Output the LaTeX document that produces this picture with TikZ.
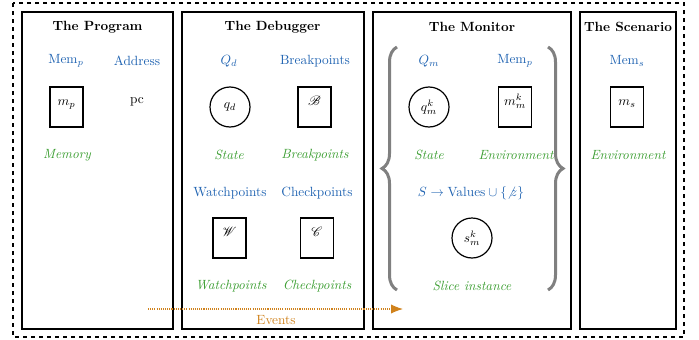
\documentclass[tikz,border=0pt]{standalone}
\usetikzlibrary{arrows.meta,positioning,decorations.pathreplacing}
\usepackage{amsmath}
\usepackage{amssymb}
\usepackage{mathrsfs}

\definecolor{typeblue}{RGB}{33,100,178}
\definecolor{rolegreen}{RGB}{60,158,50}
\definecolor{eventorange}{RGB}{208,130,28}

\begin{document}
\begin{tikzpicture}[x=0.75pt,y=-0.75pt,
	panel/.style={draw, line width=0.9pt},
	title/.style={font=\bfseries},
	typ/.style={text=typeblue},
	role/.style={text=rolegreen, font=\itshape},
	cell/.style={draw, line width=0.9pt, minimum width=24.75pt, minimum height=30pt, inner sep=0pt, text height=6pt, text depth=8pt},
	st/.style={circle, draw, line width=0.9pt, minimum size=30pt, inner sep=0pt},
	brc/.style={draw=black!50, line width=2.25pt, decorate, decoration={brace, amplitude=11.25pt}}]
		\useasboundingbox (0,0) rectangle (699,339);
		\draw[line width=0.9pt, dashed] (13,3) rectangle (684,337);
		
		% the program
		\draw[panel] (22,12) rectangle (173,329);
		\node[title] (progtitle) at (97.5,27) {The Program};
		\node[typ] (progmemtyp) at (66,61) {Mem$_p$};
		\node[typ] (progaddrtyp) at (137,61) {Address};
		\node[cell] (progmem) at (66.5,107) {$m_p$};
		\node (progpc) at (137,102) {pc};
		\node[role] (progmemrole) at (67,155) {Memory};
		
		% the debugger
		\draw[panel] (182,12) rectangle (364,329);
		\node[title] (dbgtitle) at (272.5,27) {The Debugger};
		\node[typ] (dbgstatetyp) at (229,61) {$Q_d$};
		\node[typ] (dbgbreaktyp) at (315,61) {Breakpoints};
		\node[st] (dbgstate) at (230,107) {$q_d$};
		\node[cell] (dbgbreak) at (314.5,107) {$\mathscr{B}$};
		\node[role] (dbgstaterole) at (229,155) {State};
		\node[role] (dbgbreakrole) at (315,155) {Breakpoints};
		\node[typ] (dbgwatchtyp) at (230,193) {Watchpoints};
		\node[typ] (dbgchecktyp) at (317,193) {Checkpoints};
		\node[cell] (dbgwatch) at (229.5,238) {$\mathscr{W}$};
		\node[cell] (dbgcheck) at (317,238) {$\mathscr{C}$};
		\node[role] (dbgwatchrole) at (231,286) {Watchpoints};
		\node[role] (dbgcheckrole) at (317,286) {Checkpoints};
		
		% the monitor
		\draw[panel] (373,12) rectangle (571,329);
		\node[title] (montitle) at (472,27) {The Monitor};
		\node[typ] (monstatetyp) at (429,61) {$Q_m$};
		\node[typ] (monmemtyp) at (515,61) {Mem$_p$};
		\node[st] (monstate) at (429,107) {$q_m^k$};
		\node[cell] (monmem) at (515,107) {$m_m^k$};
		\node[role] (monstaterole) at (429,155) {State};
		\node[role] (monmemrole) at (516,155) {Environment};
		\node[typ] (monslicetyp) at (471,193) {$S \rightarrow \text{Values} \cup \{\not z\}$};
		\node[st] (monslice) at (472,238) {$s_m^k$};
		\node[role] (monslicerole) at (472,286) {Slice instance};
		\draw[brc] (397,290) -- (397,47);
		\draw[brc] (548,47) -- (548,290);
		
		% the scenario
		\draw[panel] (580,12) rectangle (676,329);
		\node[title] (scentitle) at (628,27) {The Scenario};
		\node[typ] (scenmemtyp) at (627,61) {Mem$_s$};
		\node[cell] (scenmem) at (627,107) {$m_s$};
		\node[role] (scenmemrole) at (628,155) {Environment};
		
		% events
		\coordinate (evstart) at (148,309);
		\coordinate (evend) at (403,309);
		\draw[eventorange, line width=0.8pt, dash pattern=on 0.8pt off 0.8pt, -{Latex[length=9pt,width=7pt]}] (evstart) -- (evend);
		\node[text=eventorange] (evlabel) at (276,320) {Events};
	\end{tikzpicture}
\end{document}
